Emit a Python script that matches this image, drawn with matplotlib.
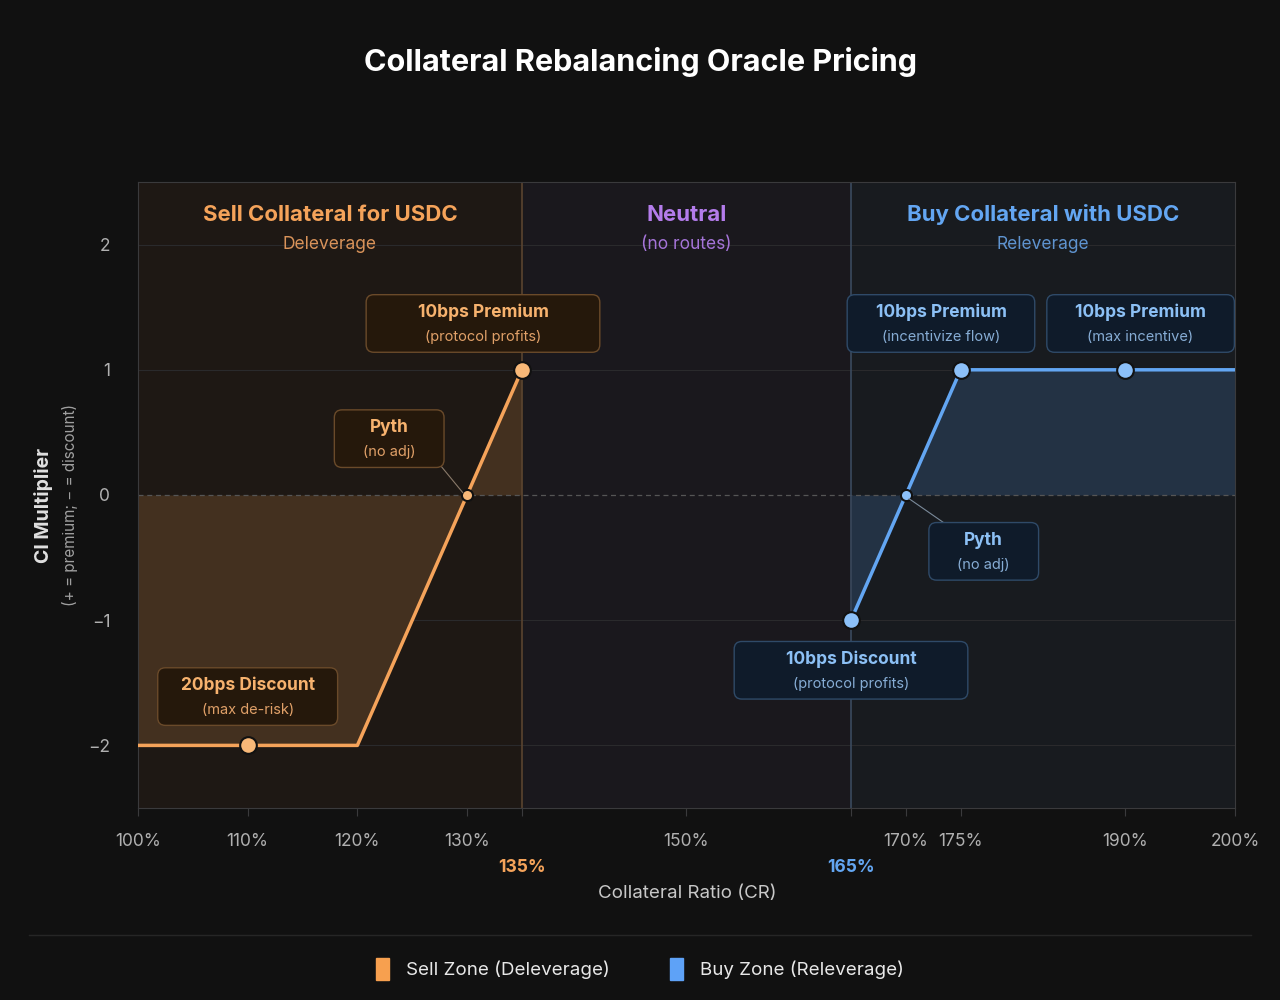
import numpy as np
import matplotlib
matplotlib.use("Agg")
import matplotlib.pyplot as plt
from matplotlib.patches import Patch, FancyBboxPatch

plt.rcParams['font.family'] = ['Inter', 'DejaVu Sans']

# data
sell_x = [100, 110, 120, 130, 135]
sell_y = [-2, -2, -2, 0, 1]
buy_x = [165, 170, 175, 190, 200]
buy_y = [-1, 0, 1, 1, 1]

sell_big = [(110, -2), (135, 1)]
sell_small = [(130, 0)]
buy_big = [(165, -1), (175, 1), (190, 1)]
buy_small = [(170, 0)]

tick_vals = [100, 110, 120, 130, 150, 170, 175, 190, 200]
tick_labels = ['100%', '110%', '120%', '130%', '150%', '170%', '175%', '190%', '200%']
sell_edge, buy_edge = 135, 165

zones = [
    ("Sell Collateral for USDC", "Deleverage", 117.5),
    ("Neutral", "(no routes)", 150),
    ("Buy Collateral with USDC", "Releverage", 182.5),
]

sell_notes = [
    ("10bps Premium", "(protocol profits)", 131.45, 1.37),
    ("Pyth", "(no adj)", 122.9, 0.45),
    ("20bps Discount", "(max de-risk)", 110.0, -1.61),
]
buy_notes = [
    ("10bps Premium", "(incentivize flow)", 173.2, 1.37),
    ("10bps Premium", "(max incentive)", 191.4, 1.37),
    ("Pyth", "(no adj)", 177.1, -0.45),
    ("10bps Discount", "(protocol profits)", 165.0, -1.40),
]

ORANGE = '#f5a35a'
BLUE = '#63a6f2'
PURPLE = '#b47cec'
BG = '#111111'

fig = plt.figure(figsize=(12.8, 10), dpi=100, facecolor=BG)
ax = fig.add_axes([0.1078, 0.192, 0.857, 0.626])
ax.set_facecolor('#1a181d')
ax.set_xlim(100, 200)
ax.set_ylim(-2.5, 2.5)

# zone backgrounds
ax.axvspan(100, sell_edge, color='#1e1814', zorder=0)
ax.axvspan(buy_edge, 200, color='#181b1f', zorder=0)

# grid
for yv in [-2, -1, 1, 2]:
    ax.axhline(yv, color='#2a2a2c', lw=0.8, zorder=1)
ax.axhline(0, color='#555555', lw=0.9, ls=(0, (4, 3)), zorder=2)
ax.axvline(sell_edge, color='#5a4430', lw=1.2, zorder=2)
ax.axvline(buy_edge, color='#3a4a5e', lw=1.2, zorder=2)

# fills
ax.fill_between(sell_x, sell_y, 0, color='#43301f', lw=0, zorder=1.5)
ax.fill_between(buy_x, buy_y, 0, color='#233244', lw=0, zorder=1.5)

# curves
ax.plot(sell_x, sell_y, color=ORANGE, lw=2.5, zorder=4)
ax.plot(buy_x, buy_y, color=BLUE, lw=2.5, zorder=4)

for pts, c, s in [(sell_big, '#f8b878', 12), (sell_small, '#f8b878', 8),
                  (buy_big, '#8cc0f8', 12), (buy_small, '#8cc0f8', 8)]:
    xs, ys = zip(*pts)
    ax.plot(xs, ys, 'o', ms=s, mfc=c, mec='#111111', mew=1.5, zorder=5)

# zone titles
zone_cols = [(ORANGE, '#d9935a'), (PURPLE, '#a574d8'), (BLUE, '#5f94d0')]
for (t, sub, xc), (c1, c2) in zip(zones, zone_cols):
    ax.text(xc, 2.24, t, color=c1, fontsize=16, fontweight='bold',
            ha='center', va='center', zorder=6)
    ax.text(xc, 2.0, sub, color=c2, fontsize=12.5, ha='center', va='center', zorder=6)

ASP = 10.97 / 125.5


def note(t, sub, x, y, face, edge, c1, c2, w, h):
    box = FancyBboxPatch((x - w / 2, y - h / 2), w, h,
                         boxstyle='round,pad=0,rounding_size=0.7',
                         mutation_aspect=ASP, fc=face, ec=edge, lw=1.0, zorder=6)
    ax.add_patch(box)
    ax.text(x, y + h * 0.19, t, color=c1, fontsize=12.5, fontweight='bold',
            ha='center', va='center', zorder=7)
    ax.text(x, y - h * 0.24, sub, color=c2, fontsize=10.5,
            ha='center', va='center', zorder=7)


sell_w = [21.3, 10.0, 16.4]
for (t, sub, x, y), w in zip(sell_notes, sell_w):
    note(t, sub, x, y, '#25180b', '#6a4a2a', '#f7b26e', '#e0a068', w, 0.46)
buy_w = [17.1, 17.1, 10.0, 21.3]
for (t, sub, x, y), w in zip(buy_notes, buy_w):
    note(t, sub, x, y, '#0f1b2a', '#2f4a68', '#8cc0f5', '#86acd4', w, 0.46)

# connectors for Pyth boxes
ax.plot([126.6, 129.6], [0.34, 0.02], color='#8a7a6a', lw=0.8, zorder=5)
ax.plot([170.3, 173.6], [-0.03, -0.23], color='#7a8a9a', lw=0.8, zorder=5)

# axes styling
for sp in ax.spines.values():
    sp.set_color('#3a3a3c')
ax.set_yticks([-2, -1, 0, 1, 2])
ax.set_yticklabels(['\u22122', '\u22121', '0', '1', '2'])
ax.set_xticks(tick_vals + [sell_edge, buy_edge])
ax.set_xticklabels(tick_labels + ['\n135%', '\n165%'], linespacing=1.7)
ax.tick_params(axis='y', length=0, colors='#b0b0b0', labelsize=12.5, pad=20)
ax.tick_params(axis='x', length=6, color='#3a3a3c', colors='#b0b0b0',
               labelsize=12.5, pad=12)
xt = ax.get_xticklabels()
xt[-2].set_color(ORANGE)
xt[-2].set_fontweight('bold')
xt[-1].set_color(BLUE)
xt[-1].set_fontweight('bold')
xl = ax.get_xticklines()
xl[-4].set_color('#8a6a4a')
xl[-2].set_color('#4a6a90')

fig.text(0.5367, 0.107, 'Collateral Ratio (CR)', color='#c8c8c8', fontsize=13.5,
         ha='center', va='center')
fig.text(0.034, 0.495, 'CI Multiplier', color='#e0e0e0', fontsize=14,
         fontweight='bold', rotation=90, ha='center', va='center')
fig.text(0.055, 0.495, '(+ = premium; \u2212 = discount)', color='#a0a0a0',
         fontsize=11, rotation=90, ha='center', va='center')

fig.text(0.5, 0.938, 'Collateral Rebalancing Oracle Pricing', color='#ffffff',
         fontsize=22, fontweight='bold', ha='center', va='center')

# separator and legend
fig.add_artist(plt.Line2D([0.023, 0.977], [0.065, 0.065], color='#262626', lw=1))
handles = [Patch(color='#f7a04f', label='Sell Zone (Deleverage)'),
           Patch(color='#5ea2f7', label='Buy Zone (Releverage)')]
fig.legend(handles=handles, loc='center', bbox_to_anchor=(0.5, 0.031), ncol=2,
           frameon=False, fontsize=13.5, labelcolor='#e8e8e8',
           handlelength=0.7, handleheight=1.4, columnspacing=3.2, handletextpad=0.9)

fig.savefig('out.png', dpi=100, facecolor=BG)
